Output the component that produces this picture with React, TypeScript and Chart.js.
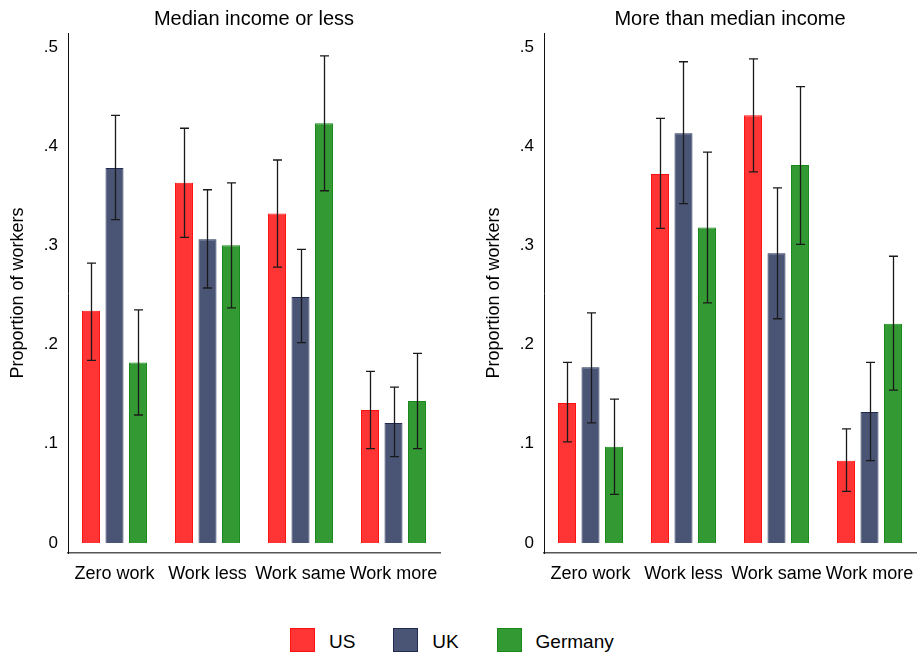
import React, { useEffect, useRef } from 'react';
import { Chart, registerables } from 'chart.js';

Chart.register(...registerables);

const FONT = '"Liberation Sans", Arial, Helvetica, sans-serif';

const categories = ['Zero work', 'Work less', 'Work same', 'Work more'];
const countries = ['US', 'UK', 'Germany'];
const yTicks = [0, 0.1, 0.2, 0.3, 0.4, 0.5];
const yTickLabels = ['0', '.1', '.2', '.3', '.4', '.5'];

// Median income or less: proportions with confidence bounds
const lowUS = [0.234, 0.363, 0.332, 0.134];
const lowUSLo = [0.184, 0.308, 0.278, 0.095];
const lowUSHi = [0.282, 0.418, 0.386, 0.173];
const lowUK = [0.378, 0.306, 0.248, 0.121];
const lowUKLo = [0.326, 0.257, 0.202, 0.087];
const lowUKHi = [0.431, 0.356, 0.296, 0.157];
const lowDE = [0.182, 0.300, 0.423, 0.143];
const lowDELo = [0.129, 0.237, 0.355, 0.095];
const lowDEHi = [0.235, 0.363, 0.491, 0.191];

// More than median income
const highUS = [0.141, 0.372, 0.431, 0.083];
const highUSLo = [0.102, 0.317, 0.374, 0.052];
const highUSHi = [0.182, 0.428, 0.488, 0.115];
const highUK = [0.177, 0.413, 0.292, 0.132];
const highUKLo = [0.121, 0.342, 0.226, 0.083];
const highUKHi = [0.232, 0.485, 0.358, 0.182];
const highDE = [0.097, 0.318, 0.381, 0.221];
const highDELo = [0.049, 0.242, 0.301, 0.154];
const highDEHi = [0.145, 0.394, 0.460, 0.289];

const fills = ['#ff3535', '#4a5576', '#339933'];
const borders = ['#ff1010', '#1f2b52', '#18891a'];

type Series = { values: number[]; lo: number[]; hi: number[] };

const errorBars = {
  id: 'errorBars',
  afterDatasetsDraw(chart: any) {
    const { ctx } = chart;
    const yScale = chart.scales.y;
    ctx.save();
    ctx.strokeStyle = '#1a1a1a';
    ctx.lineWidth = 1.3;
    chart.data.datasets.forEach((ds: any, i: number) => {
      const meta = chart.getDatasetMeta(i);
      meta.data.forEach((bar: any, j: number) => {
        const x = Math.round(bar.x) + 0.5;
        const top = yScale.getPixelForValue(ds.errHi[j]);
        const bot = yScale.getPixelForValue(ds.errLo[j]);
        const cap = 4.5;
        ctx.beginPath();
        ctx.moveTo(x, top);
        ctx.lineTo(x, bot);
        ctx.moveTo(x - cap, top);
        ctx.lineTo(x + cap, top);
        ctx.moveTo(x - cap, bot);
        ctx.lineTo(x + cap, bot);
        ctx.stroke();
      });
    });
    ctx.restore();
  },
};

function Panel({ title, series, left }: { title: string; series: Series[]; left: number }) {
  const ref = useRef<HTMLCanvasElement>(null);

  useEffect(() => {
    if (!ref.current) return;
    const chart = new Chart(ref.current, {
      type: 'bar',
      data: {
        labels: categories,
        datasets: series.map((s, i) => ({
          label: countries[i],
          data: s.values,
          errLo: s.lo,
          errHi: s.hi,
          backgroundColor: fills[i],
          borderColor: borders[i],
          borderWidth: 1,
          categoryPercentage: 0.758,
          barPercentage: 0.765,
        })) as any,
      },
      options: {
        responsive: false,
        animation: false,
        layout: { padding: { left: 0, right: 1, top: 0, bottom: 0 } },
        plugins: {
          legend: { display: false },
          tooltip: { enabled: false },
          title: {
            display: true,
            text: title,
            fullSize: false,
            color: '#000',
            font: { family: FONT, size: 20, weight: 'normal' },
            padding: { top: 7, bottom: 2 },
          },
        },
        scales: {
          x: {
            grid: { display: false, drawTicks: false },
            border: { display: true, color: '#555', width: 1.5 },
            ticks: {
              color: '#000',
              font: { family: FONT, size: 18 },
              autoSkip: false,
              maxRotation: 0,
              minRotation: 0,
              padding: 10,
            },
            afterFit(scale: any) {
              scale.height = 47;
              scale.paddingLeft = 0;
              scale.paddingRight = 0;
            },
          },
          y: {
            min: -0.0101,
            max: 0.514,
            grid: { display: false, drawTicks: false },
            border: { display: true, color: '#111', width: 1 },
            afterBuildTicks(scale: any) {
              scale.ticks = yTicks.map((v) => ({ value: v }));
            },
            ticks: {
              color: '#000',
              font: { family: FONT, size: 17 },
              padding: 10,
              callback: (v: any) => yTickLabels[yTicks.indexOf(Math.round(Number(v) * 10) / 10)] ?? '',
            },
            title: {
              display: true,
              text: 'Proportion of workers',
              color: '#000',
              font: { family: FONT, size: 18 },
              padding: { top: 7, bottom: 0 },
            },
            afterFit(scale: any) {
              scale.width = 68;
              scale.paddingTop = 0;
              scale.paddingBottom = 0;
            },
          },
        },
      } as any,
      plugins: [errorBars],
    });
    return () => chart.destroy();
  }, [title, series]);

  return (
    <canvas
      ref={ref}
      width={441}
      height={600}
      style={{ position: 'absolute', left, top: 0, display: 'block' }}
    />
  );
}

const lowSeries: Series[] = [
  { values: lowUS, lo: lowUSLo, hi: lowUSHi },
  { values: lowUK, lo: lowUKLo, hi: lowUKHi },
  { values: lowDE, lo: lowDELo, hi: lowDEHi },
];
const highSeries: Series[] = [
  { values: highUS, lo: highUSLo, hi: highUSHi },
  { values: highUK, lo: highUKLo, hi: highUKHi },
  { values: highDE, lo: highDELo, hi: highDEHi },
];

export default function App() {
  return (
    <div
      style={{
        position: 'absolute',
        left: 0,
        top: 0,
        width: 917,
        height: 655,
        background: '#fff',
        fontFamily: FONT,
        overflow: 'hidden',
      }}
    >
      <Panel title="Median income or less" series={lowSeries} left={0} />
      <Panel title="More than median income" series={highSeries} left={476} />
      <div style={{ position: 'absolute', left: 290, top: 627, display: 'flex', height: 25 }}>
        {countries.map((c, i) => (
          <div key={c} style={{ display: 'flex', alignItems: 'center', width: i < 2 ? 103.3 : 'auto' }}>
            <div
              style={{
                width: 23,
                height: 22,
                background: fills[i],
                border: `1px solid ${borders[i]}`,
              }}
            />
            <span style={{ marginLeft: 14, fontSize: 19, color: '#000', lineHeight: '25px', position: 'relative', top: 2 }}>
              {c}
            </span>
          </div>
        ))}
      </div>
    </div>
  );
}
